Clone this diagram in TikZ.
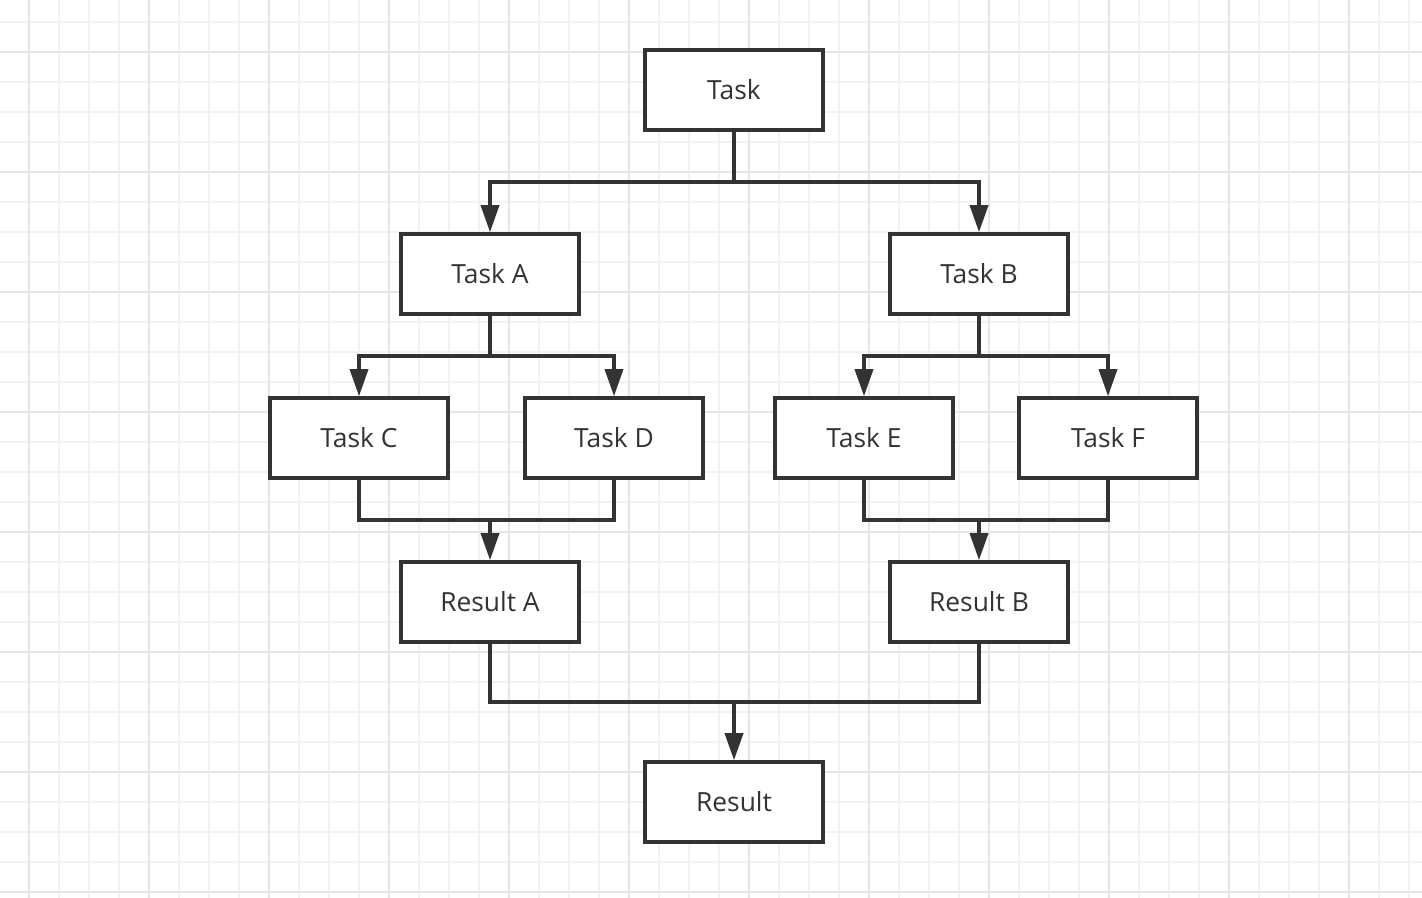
\documentclass[tikz,border=0pt]{standalone}
\usepackage{fontspec}
\setmainfont{Open Sans}
\usetikzlibrary{arrows.meta}
\definecolor{ink}{HTML}{333333}
\definecolor{gridminor}{HTML}{F2F2F2}
\definecolor{gridmajor}{HTML}{E6E6E6}
\begin{document}
\begin{tikzpicture}[x=0.01cm,y=-0.01cm,
  box/.style={draw=ink,line width=1pt,fill=white,minimum width=1.78cm,
    minimum height=0.8cm,inner sep=0pt,text=ink,font=\fontsize{7.5}{9}\selectfont},
  link/.style={draw=ink,line width=1pt},
  arr/.style={link,-{Triangle[length=0.27cm,width=0.18cm]}}]
  % Paper
  \useasboundingbox (0,0) rectangle (1422,898);
  \fill[white] (0,0) rectangle (1422,898);

  % Grid
  \foreach \i in {0,...,48} {
    \draw[gridminor,line width=0.35pt] (-1+30*\i,0) -- ++(0,898);
  }
  \foreach \i in {0,...,31} {
    \draw[gridminor,line width=0.35pt] (0,-8+30*\i) -- ++(1422,0);
  }
  \foreach \i in {0,...,11} {
    \draw[gridmajor,line width=0.55pt] (29+120*\i,0) -- ++(0,898);
  }
  \foreach \i in {0,...,7} {
    \draw[gridmajor,line width=0.55pt] (0,52+120*\i) -- ++(1422,0);
  }

  % Boxes
  \node[box] (task) at (734,90) {Task};
  \node[box] (taskA) at (490,274) {Task A};
  \node[box] (taskB) at (979,274) {Task B};
  \node[box] (taskC) at (359,438) {Task C};
  \node[box] (taskD) at (614,438) {Task D};
  \node[box] (taskE) at (864,438) {Task E};
  \node[box] (taskF) at (1108,438) {Task F};
  \node[box] (resA) at (490,602) {Result A};
  \node[box] (resB) at (979,602) {Result B};
  \node[box] (result) at (734,802) {Result};

  % Junctions
  \coordinate (split) at (734,182);
  \coordinate (splitA) at (490,356);
  \coordinate (splitB) at (979,356);
  \coordinate (joinA) at (490,520);
  \coordinate (joinB) at (979,520);
  \coordinate (joinR) at (734,702);

  % Fork
  \draw[link] (task) -- (split);
  \draw[arr] (split) -| (taskA.north);
  \draw[arr] (split) -| (taskB.north);
  \draw[link] (taskA) -- (splitA);
  \draw[arr] (splitA) -| (taskC.north);
  \draw[arr] (splitA) -| (taskD.north);
  \draw[link] (taskB) -- (splitB);
  \draw[arr] (splitB) -| (taskE.north);
  \draw[arr] (splitB) -| (taskF.north);

  % Join
  \draw[link] (taskC.south) |- (joinA) -| (taskD.south);
  \draw[arr] (joinA) -- (resA);
  \draw[link] (taskE.south) |- (joinB) -| (taskF.south);
  \draw[arr] (joinB) -- (resB);
  \draw[link] (resA.south) |- (joinR) -| (resB.south);
  \draw[arr] (joinR) -- (result);
\end{tikzpicture}
\end{document}
